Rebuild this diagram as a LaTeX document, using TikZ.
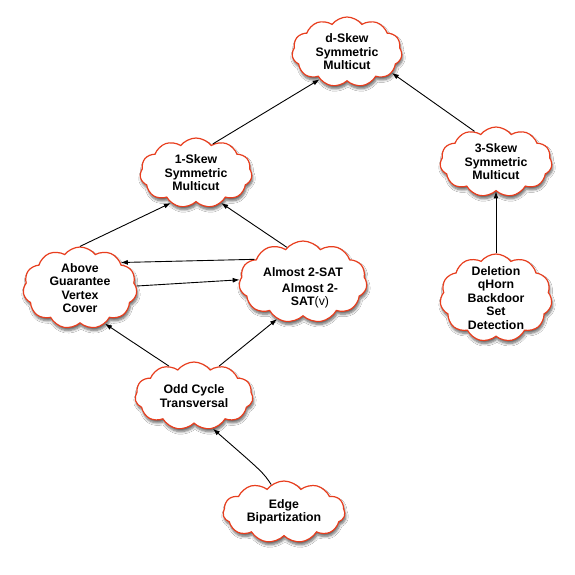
\documentclass[tikz,border=0pt]{standalone}
\usepackage{fontspec}
\setmainfont{Liberation Sans}
\usetikzlibrary{shapes.symbols,shadows,shadows.blur,arrows.meta}
\definecolor{cloudred}{RGB}{232,62,30}
\tikzset{
  cloudbox/.style={cloud, cloud puffs=11, cloud puff arc=105, cloud ignores aspect,
    draw=cloudred, line width=1.2pt, fill=white, inner sep=0pt,
    blur shadow={shadow xshift=1pt, shadow yshift=-3pt, shadow blur steps=6, shadow blur radius=2.5pt, shadow opacity=60}},
  txt/.style={align=center, font=\fontsize{12.3}{13.5}\selectfont\bfseries, inner sep=0pt},
  arr/.style={-{Latex[length=7pt,width=5pt]}, line width=0.9pt}
}
\begin{document}
\begin{tikzpicture}[x=1pt,y=-1pt]
\useasboundingbox (0,0) rectangle (575,575);
\fill[white] (0,0) rectangle (575,575);
% clouds
\node[cloudbox, minimum width=110pt, minimum height=70pt] (dskew) at (347,52) {};
\node[cloudbox, minimum width=112pt, minimum height=70pt] (oneskew) at (196,173) {};
\node[cloudbox, minimum width=112pt, minimum height=70pt] (threeskew) at (496,162) {};
\node[cloudbox, minimum width=114pt, minimum height=82pt] (agvc) at (80,288) {};
\node[cloudbox, minimum width=128pt, minimum height=82pt] (asat) at (303,282) {};
\node[cloudbox, minimum width=112pt, minimum height=88pt] (qhorn) at (496,298) {};
\node[cloudbox, minimum width=118pt, minimum height=68pt] (oct) at (194,396) {};
\node[cloudbox, minimum width=122pt, minimum height=62pt] (edge) at (284,512) {};
% texts
\node[txt] (tdskew) at (dskew) {d-Skew\\Symmetric\\Multicut};
\node[txt] (toneskew) at (oneskew) {1-Skew\\Symmetric\\Multicut};
\node[txt] (tthreeskew) at (threeskew) {3-Skew\\Symmetric\\Multicut};
\node[txt] (tagvc) at (agvc) {Above\\Guarantee\\Vertex\\Cover};
\node[txt] (tasat1) at (303,272) {Almost 2-SAT};
\node[txt] (tasat2) at (310,296) {Almost 2-\\SAT{\mdseries(v)}};
\node[txt] (tqhorn) at (qhorn) {Deletion\\qHorn\\Backdoor\\Set\\Detection};
\node[txt] (toct) at (oct) {Odd Cycle\\Transversal};
\node[txt] (tedge) at (edge) {Edge\\Bipartization};
% connectors
\draw[arr] (oneskew.60) -- (dskew.225);
\draw[arr] (threeskew.125) -- (dskew.-25);
\draw[arr] (qhorn.north) -- (threeskew.south);
\draw[arr] (agvc.north) -- (oneskew.230);
\draw[arr] (asat.155) -- (agvc.32);
\draw[arr] (asat.115) -- (oneskew.-50);
\draw[arr] (agvc.2) -- (asat.178);
\draw[arr] (oct.130) -- (agvc.-55);
\draw[arr] (oct.50) -- (asat.235);
\draw[arr] (edge.115) .. controls ++(-8,-12) .. (oct.-60);
\end{tikzpicture}
\end{document}
